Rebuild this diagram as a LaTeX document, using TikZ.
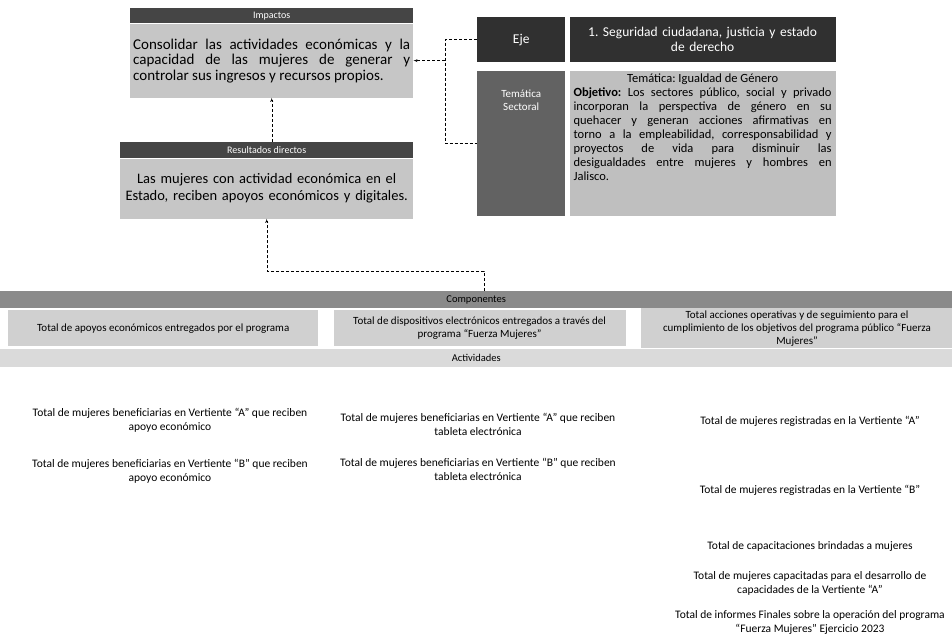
\documentclass[tikz,border=0pt]{standalone}
\usepackage{fontspec}
\setmainfont{Carlito}
\usepackage{tikz}
\usetikzlibrary{positioning,shapes,arrows,calc}
\frenchspacing
\hyphenpenalty=10000
\exhyphenpenalty=10000
\tolerance=9999
\definecolor{hdrgray}{HTML}{454545}
\definecolor{impgray}{HTML}{C6C6C6}
\definecolor{ejegray}{HTML}{303030}
\definecolor{temgray}{HTML}{626262}
\definecolor{objgray}{HTML}{BFBFBF}
\definecolor{bargray}{HTML}{8A8A8A}
\definecolor{cmpgray}{HTML}{D0D0D0}
\definecolor{actgray}{HTML}{DADADA}
\tikzstyle{hdr} = [rectangle, fill=hdrgray, text=white, anchor=north west, %
   inner sep=0pt, font=\fontsize{10}{11}\selectfont]
\tikzstyle{box0} = [rectangle, fill=impgray, text=black, inner sep=3pt]
\tikzstyle{box1} = [rectangle, fill=ejegray, text=white, inner sep=2pt, %
   font=\fontsize{13.5}{15}\selectfont]
\tikzstyle{box2} = [rectangle, fill=temgray, inner sep=0pt]
\tikzstyle{box3} = [rectangle, fill=objgray, inner sep=0pt]
\tikzstyle{box4} = [rectangle, fill=cmpgray, align=center, inner sep=2pt, %
   font=\fontsize{11}{13}\selectfont]
\tikzstyle{bar0} = [rectangle, fill=bargray, anchor=north west, inner sep=0pt, %
   font=\fontsize{10.5}{11}\selectfont]
\tikzstyle{bar1} = [rectangle, fill=actgray, anchor=north west, inner sep=0pt, %
   font=\fontsize{10.5}{11}\selectfont]
\tikzstyle{act} = [align=center, inner sep=0pt, font=\fontsize{11.5}{14}\selectfont]
\tikzstyle{dline} = [draw, densely dashed, thin]
\tikzstyle{line} = [draw, densely dashed, thin, -latex']

\begin{document}
\begin{tikzpicture}[x=1pt,y=-1pt]
   \useasboundingbox[fill=white] (0,0) rectangle (952,644);

% Impactos %%%%%%%%%%%%%%%%%%%%%%%%%%%%%%%%%%%%%%%%%%%%%%%%%%%%%%%%%%%
   \node[hdr, minimum width=283pt, minimum height=15pt] (imphdr) at (130,8) {Impactos};
   \node[box0, below=0pt of imphdr, minimum width=283pt, minimum height=74pt, %
      text width=277pt, align=justify, font=\fontsize{15}{15.5}\selectfont](imp){%
      Consolidar las actividades económicas y la\linebreak capacidad de las mujeres de generar y\linebreak controlar sus ingresos y recursos propios.};

% Resultados directos %%%%%%%%%%%%%%%%%%%%%%%%%%%%%%%%%%%%%%%%%%%%%%%%
   \node[hdr, minimum width=293pt, minimum height=16pt] (reshdr) at (120,142) {Resultados directos};
   \node[box0, below=0pt of reshdr, minimum width=293pt, minimum height=60pt, %
      text width=287pt, align=center, font=\fontsize{14.5}{17}\selectfont](res){%
      Las mujeres con actividad económica en el\\ Estado, reciben apoyos económicos y digitales.};

% Eje y tematica %%%%%%%%%%%%%%%%%%%%%%%%%%%%%%%%%%%%%%%%%%%%%%%%%%%%%
   \node[box1, anchor=north west, minimum width=88pt, minimum height=45pt] (eje) at (477,17) {Eje};
   \node[box1, right=4pt of eje, minimum width=266pt, minimum height=45pt, %
      text width=258pt, align=center](ejetxt){%
      1. Seguridad ciudadana, justicia y estado\\ de derecho};

   \node[box2, below=8pt of eje, minimum width=88pt, minimum height=145pt] (tem) {};
   \node[below=19pt of tem.north, align=center, text=white, inner sep=0pt, %
      font=\fontsize{11}{13.5}\selectfont](temtxt){Temática\\ Sectoral};

   \node[box3, right=4pt of tem, minimum width=266pt, minimum height=145pt] (obj) {};
   \node[below=3pt of obj.north, text width=258pt, align=justify, inner sep=0pt, %
      font=\fontsize{12.5}{14}\selectfont](objtxt){%
      {\centering Temática: Igualdad de Género\par}%
      \textbf{Objetivo:} Los sectores público, social y privado\linebreak incorporan la perspectiva de género en su\linebreak quehacer y generan acciones afirmativas en\linebreak torno a la empleabilidad, corresponsabilidad y\linebreak proyectos de vida para disminuir las\linebreak desigualdades entre mujeres y hombres en\linebreak Jalisco.};

% Componentes %%%%%%%%%%%%%%%%%%%%%%%%%%%%%%%%%%%%%%%%%%%%%%%%%%%%%%%%
   \node[bar0, minimum width=952pt, minimum height=17pt] (comp) at (0,291) {Componentes};

   \node[box4, anchor=north west, minimum width=310pt, minimum height=36pt] (c1) at (8,310) {%
      Total de apoyos económicos entregados por el programa};
   \node[box4, right=15pt of c1, minimum width=292pt, minimum height=36pt](c2){%
      Total de dispositivos electrónicos entregados a través del\\ programa “Fuerza Mujeres”};
   \node[box4, right=15pt of c2, minimum width=312pt, minimum height=36pt](c3){%
      Total acciones operativas y de seguimiento para el\\ cumplimiento de los objetivos del programa público “Fuerza\\ Mujeres”};

% Actividades %%%%%%%%%%%%%%%%%%%%%%%%%%%%%%%%%%%%%%%%%%%%%%%%%%%%%%%%
   \node[bar1, minimum width=952pt, minimum height=18pt] (acts) at (0,349) {Actividades};

   \node[act] (a1) at (170,420) {Total de mujeres beneficiarias en Vertiente “A” que reciben\\ apoyo económico};
   \node[act, below=27pt of a1] (a2) {Total de mujeres beneficiarias en Vertiente “B” que reciben\\ apoyo económico};

   \node[act] (a3) at (478,424) {Total de mujeres beneficiarias en Vertiente “A” que reciben\\ tableta electrónica};
   \node[act, below=23pt of a3] (a4) {Total de mujeres beneficiarias en Vertiente “B” que reciben\\ tableta electrónica};

   \node[act] (a5) at (810,421) {Total de mujeres registradas en la Vertiente “A”};
   \node[act] (a6) at (810,490) {Total de mujeres registradas en la Vertiente “B”};
   \node[act] (a7) at (810,546) {Total de capacitaciones brindadas a mujeres};
   \node[act] (a8) at (810,583) {Total de mujeres capacitadas para el desarrollo de\\ capacidades de la Vertiente “A”};
   \node[act] (a9) at (810,622) {Total de informes Finales sobre la operación del programa\\ “Fuerza Mujeres” Ejercicio 2023};

   % Draw edges
   \coordinate (brk) at ($(eje.west)+(-32,0)$);
   \coordinate (cj) at (484,271);
   \path [dline] (eje.west) -| (brk |- tem.west) -- (tem.west);
   \path [line] (brk |- imp.east) -- (imp.east);
   \path [line] (reshdr.north -| imp.south) -- (imp.south);
   \path [line] (cj |- comp.north) -- (cj) -| (res.south);

\end{tikzpicture}
\end{document}
